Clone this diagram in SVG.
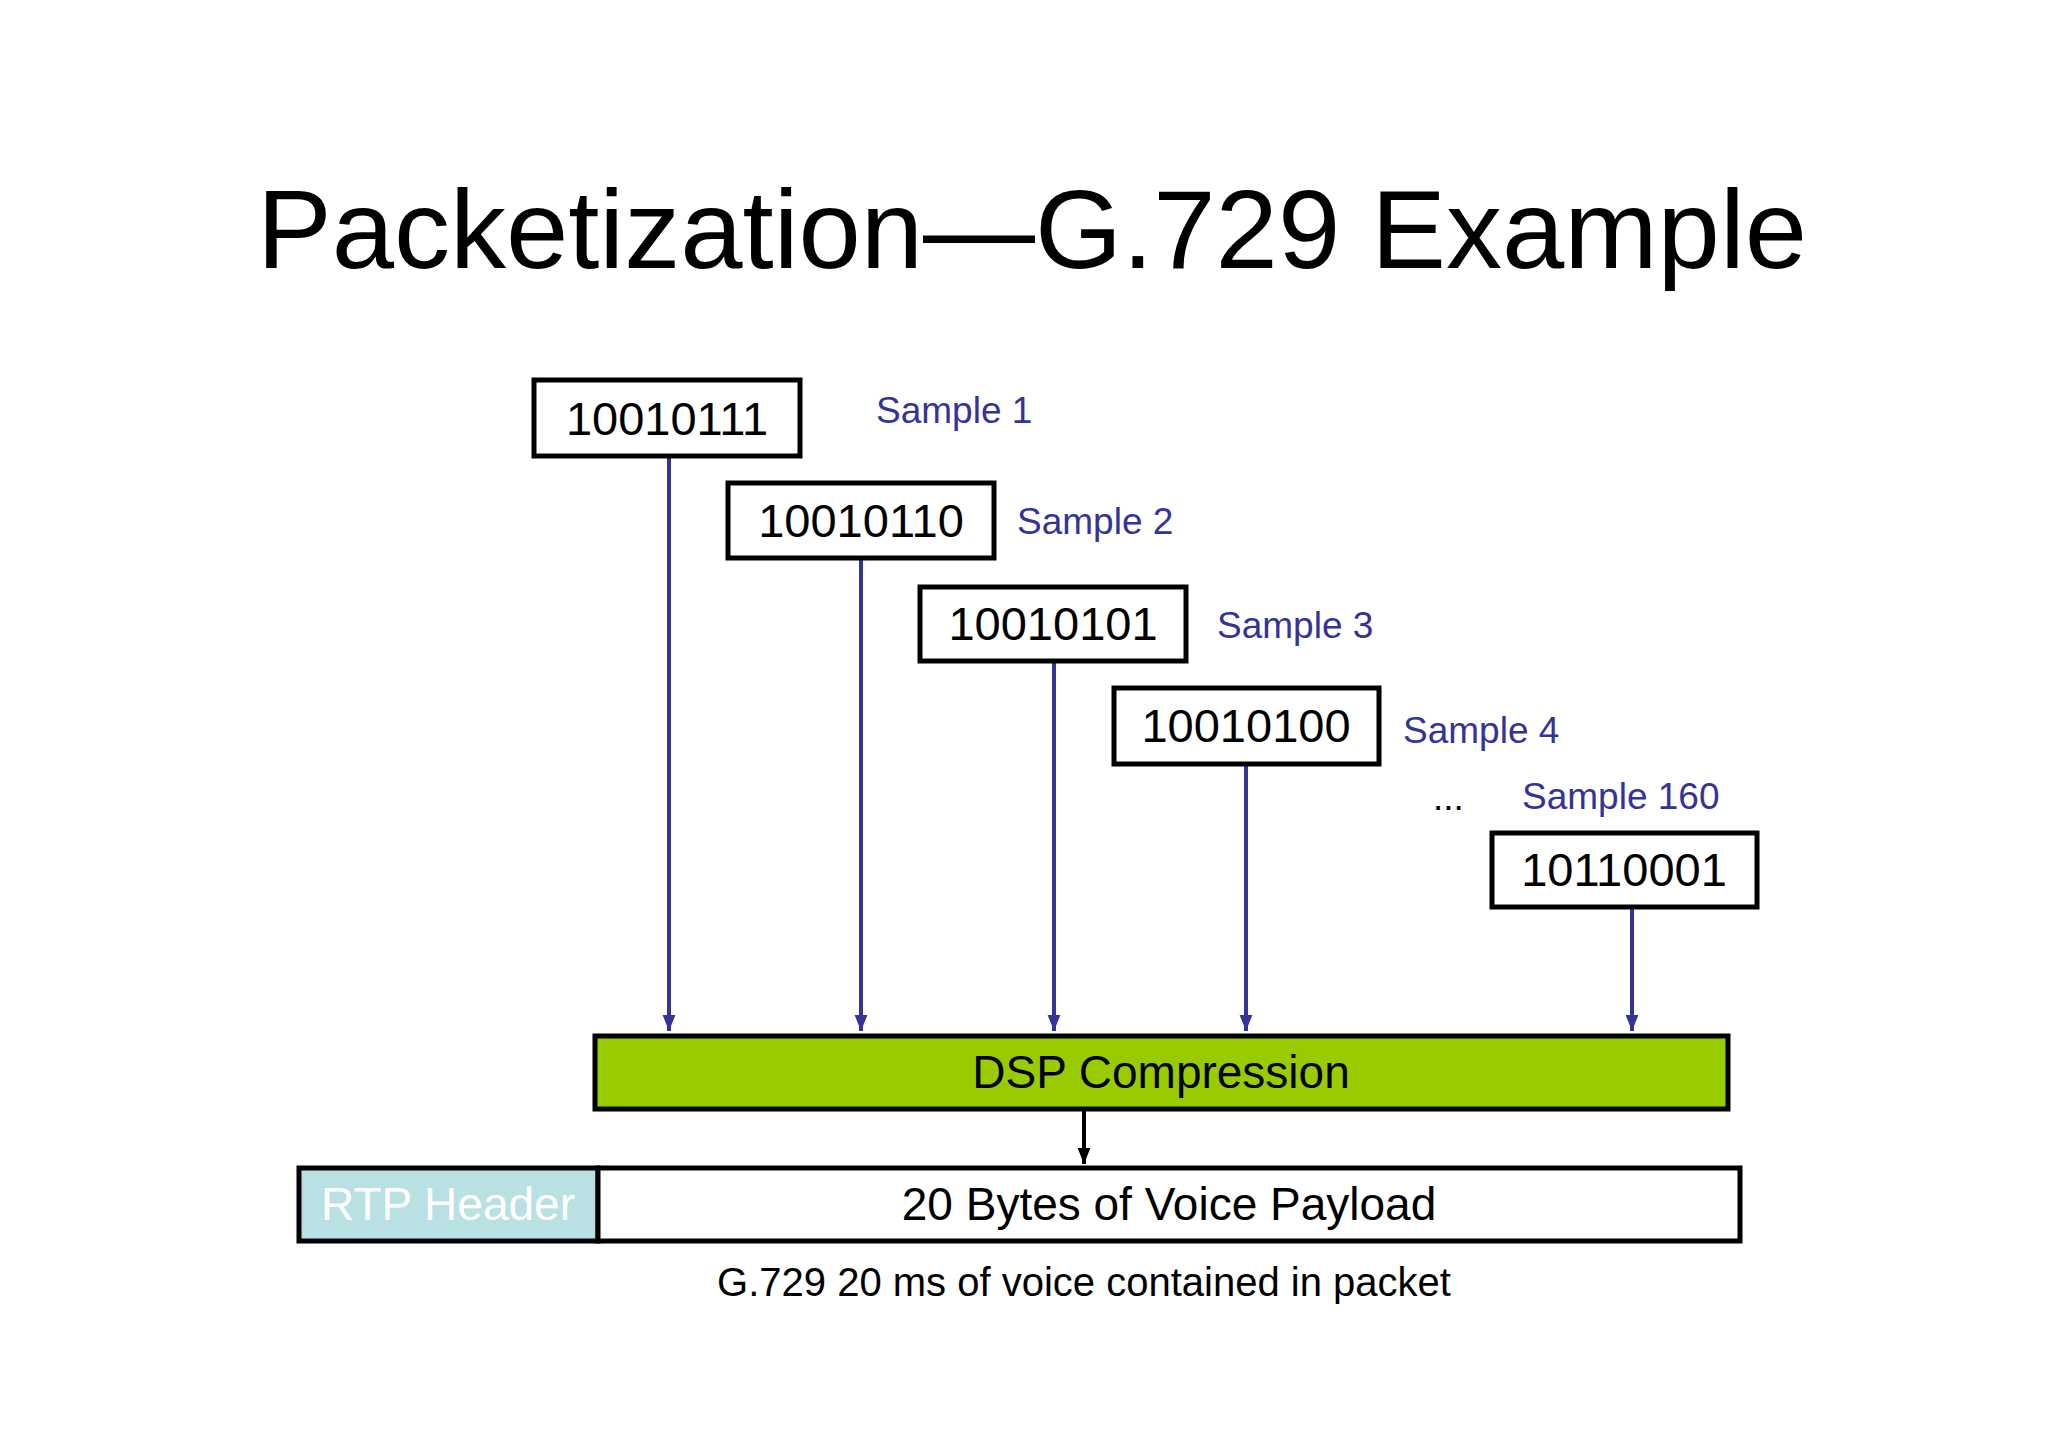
<svg xmlns="http://www.w3.org/2000/svg" width="2048" height="1447" viewBox="0 0 2048 1447">
<style>
text{font-family:"Liberation Sans",Arial,sans-serif}
.box{fill:#fff;stroke:#000;stroke-width:5}
.bin{font-size:47px;text-anchor:middle;fill:#000}
.lbl{font-size:37px;fill:#333399}
.c{stroke:#333399;stroke-width:4;fill:none}
</style>
<defs>
<marker id="ab" viewBox="0 0 10 10" refX="10" refY="5" markerWidth="4" markerHeight="4" orient="auto" markerUnits="strokeWidth"><path d="M0,1 L10,5 L0,9 z" fill="#333399"/></marker>
<marker id="ak" viewBox="0 0 10 10" refX="10" refY="5" markerWidth="4" markerHeight="4" orient="auto" markerUnits="strokeWidth"><path d="M0,1 L10,5 L0,9 z" fill="#000"/></marker>
</defs>
<rect width="2048" height="1447" fill="#fff"/>
<text x="1032" y="268" font-size="112" text-anchor="middle">Packetization—G.729 Example</text>
<g id="connectors">
<line class="c" x1="669" y1="456" x2="669" y2="1031" marker-end="url(#ab)"/>
<line class="c" x1="861" y1="558" x2="861" y2="1031" marker-end="url(#ab)"/>
<line class="c" x1="1054" y1="661" x2="1054" y2="1031" marker-end="url(#ab)"/>
<line class="c" x1="1246" y1="764" x2="1246" y2="1031" marker-end="url(#ab)"/>
<line class="c" x1="1632" y1="907" x2="1632" y2="1031" marker-end="url(#ab)"/>
<line x1="1084" y1="1110" x2="1084" y2="1164" stroke="#000" stroke-width="4" marker-end="url(#ak)"/>
</g>
<g id="s1"><rect class="box" x="534" y="380" width="266" height="76"/><text class="bin" x="667" y="435">10010111</text><text class="lbl" x="876" y="423">Sample 1</text></g>
<g id="s2"><rect class="box" x="728" y="483" width="266" height="75"/><text class="bin" x="861" y="537">10010110</text><text class="lbl" x="1017" y="534">Sample 2</text></g>
<g id="s3"><rect class="box" x="920" y="587" width="266" height="74"/><text class="bin" x="1053" y="640">10010101</text><text class="lbl" x="1217" y="638">Sample 3</text></g>
<g id="s4"><rect class="box" x="1114" y="688" width="265" height="76"/><text class="bin" x="1246" y="742">10010100</text><text class="lbl" x="1403" y="743">Sample 4</text></g>
<g id="dots"><text x="1433" y="810" font-size="37" fill="#000">...</text></g>
<g id="s160"><text class="lbl" x="1522" y="809">Sample 160</text><rect class="box" x="1492" y="833" width="265" height="74"/><text class="bin" x="1624" y="886">10110001</text></g>
<g id="dsp"><rect x="595" y="1036" width="1133" height="73" fill="#99cc00" stroke="#000" stroke-width="5"/><text x="1161" y="1088" font-size="46" text-anchor="middle">DSP Compression</text></g>
<g id="packet"><rect x="299" y="1168" width="299" height="73" fill="#b9e1e4" stroke="#000" stroke-width="5"/><text x="448" y="1220" font-size="46" text-anchor="middle" fill="#fff">RTP Header</text><rect x="598" y="1168" width="1142" height="73" fill="#fff" stroke="#000" stroke-width="5"/><text x="1169" y="1220" font-size="46" text-anchor="middle">20 Bytes of Voice Payload</text></g>
<text x="1084" y="1296" font-size="40" text-anchor="middle">G.729 20 ms of voice contained in packet</text>
</svg>
